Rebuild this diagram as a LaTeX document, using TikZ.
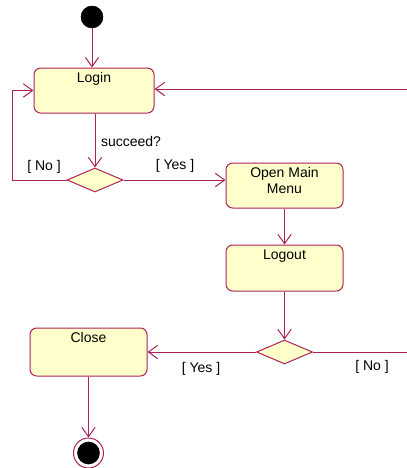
\documentclass[tikz,border=0pt]{standalone}
\usepackage{fontspec}
\setmainfont{Liberation Sans}
\usetikzlibrary{arrows.meta,shapes.geometric}
\definecolor{umlline}{RGB}{170,35,85}
\definecolor{umlfill}{RGB}{255,255,204}
\tikzset{
  actbox/.style={draw=umlline, fill=umlfill, line width=0.75pt, rounded corners=5pt, rectangle, inner sep=0pt},
  decide/.style={draw=umlline, fill=umlfill, line width=0.75pt, diamond, aspect=2.3, inner sep=0pt, minimum width=42pt, minimum height=18pt},
  flow/.style={draw=umlline, line width=0.75pt, -{Straight Barb[length=7pt,width=10pt]}},
  plain/.style={draw=umlline, line width=0.75pt},
  txt/.style={font=\fontsize{10.5}{12.75}\selectfont, text=black, inner sep=0pt, align=center},
  boxtxt/.style={txt, anchor=base},
}
\begin{document}
\begin{tikzpicture}[x=0.75pt,y=-0.75pt]
\useasboundingbox (0,0) rectangle (407,468);
% start
\node[circle, fill=black, draw=black, minimum size=16.5pt, inner sep=0pt] (start) at (92,17) {};
% boxes
\node[actbox, minimum width=90pt, minimum height=33.75pt] (login) at (94,90.5) {};
\node[actbox, minimum width=87.75pt, minimum height=33.75pt] (omm) at (284.5,185.5) {};
\node[actbox, minimum width=87.75pt, minimum height=34.5pt] (logout) at (284.5,268) {};
\node[actbox, minimum width=87.75pt, minimum height=36pt] (close) at (88.5,352) {};
% decisions
\node[decide] (d1) at (95,180) {};
\node[decide] (d2) at (284.5,352) {};
% end
\node[circle, draw=umlline, fill=white, line width=0.75pt, minimum size=22.5pt, inner sep=0pt] (end) at (88.5,453) {};
\node[circle, fill=black, minimum size=17pt, inner sep=0pt] (endin) at (end.center) {};
% box texts
\node[boxtxt] (tlogin) at ([yshift=-11.25pt]login.north) {Login};
\node[boxtxt] (tomm1) at ([yshift=-11.25pt]omm.north) {Open Main};
\node[boxtxt] (tomm2) at ([yshift=-23.25pt]omm.north) {Menu};
\node[boxtxt] (tlogout) at ([yshift=-11.25pt]logout.north) {Logout};
\node[boxtxt] (tclose) at ([yshift=-11.25pt]close.north) {Close};
% edge coordinates
\coordinate (rtop) at (407,89);
\coordinate (rbot) at (407,352);
\coordinate (lbend) at (12,180);
% connectors
\draw[flow] (start) -- (start |- login.north);
\draw[flow] (d1 |- login.south) -- (d1.north);
\draw[flow] (d1.west) -- (lbend) |- (login.west);
\draw[flow] (d1.east) -- (d1.east -| omm.west);
\draw[flow] (omm.south) -- (logout.north);
\draw[flow] (logout.south) -- (d2.north);
\draw[flow] (d2.west) -- (close.east);
\draw[plain] (d2.east) -- (rbot);
\draw[flow] (rtop) -- (rtop -| login.east);
\draw[flow] (close.south) -- (end.north);
% labels
\node[txt] (lsucc) at (131,141) {succeed?};
\node[txt] (lno1) at (44,167) {[ No ]};
\node[txt] (lyes1) at (175,166) {[ Yes ]};
\node[txt] (lyes2) at (201,369) {[ Yes ]};
\node[txt] (lno2) at (372,367) {[ No ]};
\end{tikzpicture}
\end{document}
